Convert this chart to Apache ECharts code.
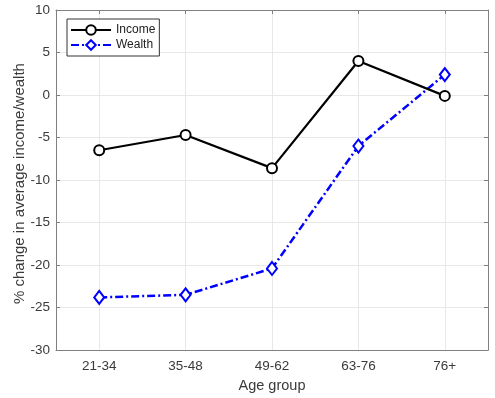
<!DOCTYPE html>
<html><head><meta charset="utf-8">
<script src="https://cdn.jsdelivr.net/npm/echarts@6/dist/echarts.min.js"></script>
<style>html,body{margin:0;padding:0;background:#fff}#c{width:495px;height:398px}</style>
</head><body><div id="c"></div>
<script>
const categories = ['21-34','35-48','49-62','63-76','76+'];
const income = [-6.5, -4.7, -8.6, 4.0, -0.1];
const wealth = [-23.8, -23.5, -20.4, -6.0, 2.4];
const yMin = -30, yMax = 10, yStep = 5;

// helper axis: half-category slots so grid lines fall on category centres
const halfSlots = [];
for (let i = 0; i <= categories.length * 2; i++) halfSlots.push(String(i));
const oddOnly = (i) => i % 2 === 1;

const chart = echarts.init(document.getElementById('c'));
const font = 'Liberation Sans, Arial, sans-serif';
const axisCol = '#808080';
const txt = '#3a3a3a';
const gridCol = '#e8e8e8';
chart.setOption({
  animation: false,
  backgroundColor: '#fff',
  grid: {left: 56, right: 7, top: 10, bottom: 47},
  legend: {
    left: 67, top: 19, orient: 'vertical',
    itemWidth: 40, itemHeight: 12, itemGap: 3,
    padding: [5, 4, 5, 3],
    borderColor: '#333', borderWidth: 1, borderRadius: 0,
    backgroundColor: '#fff',
    textStyle: {fontFamily: font, fontSize: 12, color: '#222'},
    data: ['Income', 'Wealth']
  },
  xAxis: [{
    type: 'category', data: categories, boundaryGap: true,
    name: 'Age group', nameLocation: 'middle', nameGap: 27,
    nameTextStyle: {fontFamily: font, fontSize: 14.5, color: txt},
    axisLine: {onZero: false, lineStyle: {color: axisCol}},
    axisTick: {inside: true, alignWithLabel: true, length: 4, lineStyle: {color: axisCol}},
    axisLabel: {fontFamily: font, fontSize: 13.5, color: txt, margin: 9},
    splitLine: {show: false}
  }, {
    type: 'category', data: halfSlots, position: 'top', boundaryGap: false,
    axisLine: {show: true, onZero: false, lineStyle: {color: axisCol}},
    axisTick: {show: true, inside: true, length: 4, interval: oddOnly, lineStyle: {color: axisCol}},
    axisLabel: {show: false},
    splitLine: {show: true, interval: oddOnly, lineStyle: {color: gridCol}}
  }],
  yAxis: [{
    type: 'value', min: yMin, max: yMax, interval: yStep,
    name: '% change in average income/wealth', nameLocation: 'middle', nameGap: 29,
    nameMoveOverlap: false,
    nameTextStyle: {fontFamily: font, fontSize: 15, color: txt, padding: [0, 7, 0, 0]},
    axisLine: {show: true, onZero: false, lineStyle: {color: axisCol}},
    axisTick: {show: true, inside: true, length: 4, lineStyle: {color: axisCol}},
    axisLabel: {fontFamily: font, fontSize: 13.5, color: txt, margin: 6},
    splitLine: {show: true, lineStyle: {color: gridCol}}
  }, {
    type: 'value', min: yMin, max: yMax, interval: yStep, position: 'right',
    axisLine: {show: true, onZero: false, lineStyle: {color: axisCol}},
    axisTick: {show: true, inside: true, length: 4, lineStyle: {color: axisCol}},
    axisLabel: {show: false}, splitLine: {show: false}
  }],
  series: [{
    name: 'Income', type: 'line', data: income, xAxisIndex: 0, yAxisIndex: 0,
    symbol: 'circle', symbolSize: 10,
    lineStyle: {color: '#000', width: 2.2},
    itemStyle: {color: '#fff', borderColor: '#000', borderWidth: 2},
    z: 3
  }, {
    name: 'Wealth', type: 'line', data: wealth, xAxisIndex: 0, yAxisIndex: 0,
    symbol: 'diamond', symbolSize: [10, 13],
    lineStyle: {color: '#0000ff', width: 2.5, type: [8, 3, 2, 3]},
    itemStyle: {color: '#fff', borderColor: '#0000ff', borderWidth: 2},
    z: 2
  }]
});
</script></body></html>
